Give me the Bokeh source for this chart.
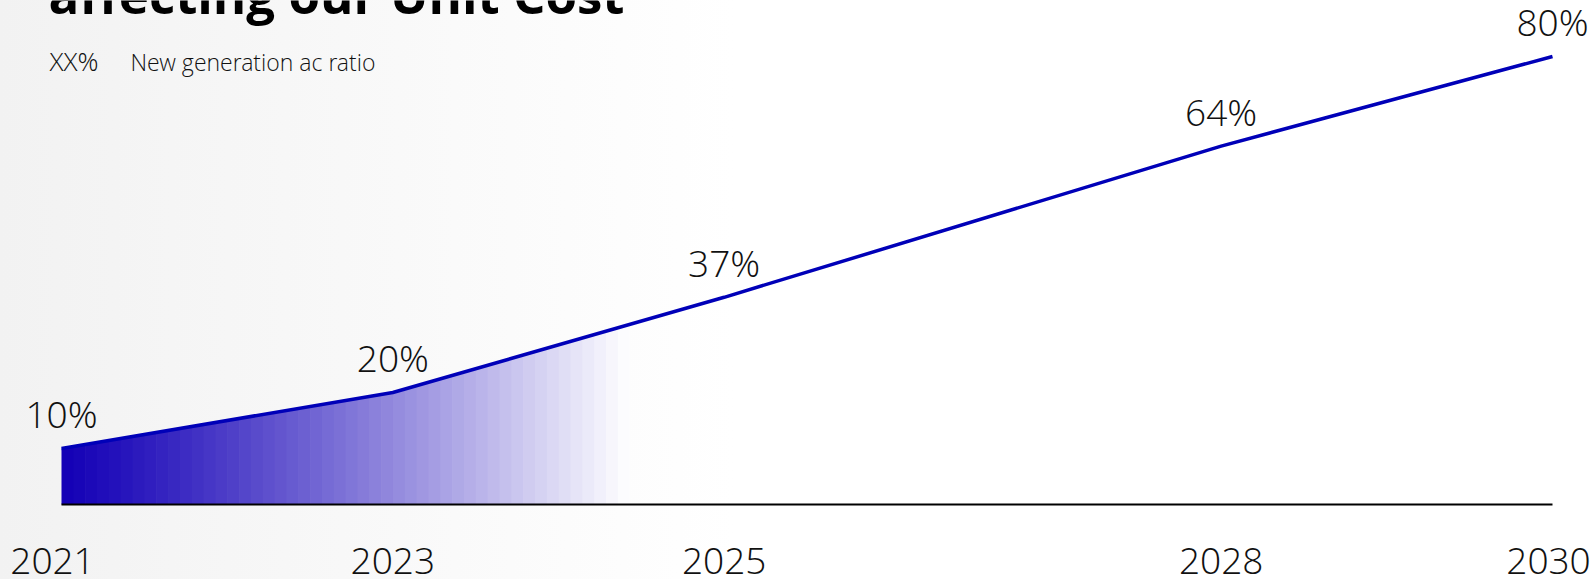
import numpy as np
from bokeh.plotting import figure
from bokeh.models import Range1d, Label, ColumnDataSource
from bokeh.core.properties import value
from bokeh.embed import file_html
from bokeh.resources import INLINE

# ---- data ----
years = [2021, 2023, 2025, 2028, 2030]
ratio = [10, 20, 37, 64, 80]
ratio_labels = ["10%", "20%", "37%", "64%", "80%"]
tick_labels = ["2021", "2023", "2025", "2028", "2030"]
title_text = "affecting our Unit Cost"
legend_key = "XX%"
legend_text = "New generation ac ratio"

# ---- style ----
BLUE = "#0000b8"
FILL_RGB = np.array([20, 0, 182])
FONT_NAME = "Open Sans Light"
FONT = value(FONT_NAME)
tick_dx = [-9, 0, 0, 0, -4]   # pixel nudges of the year labels
W, H = 1596, 579

p = figure(width=W, height=H, output_backend="svg", toolbar_location=None,
           x_range=Range1d(2020.6318, 2030.2656), y_range=Range1d(-13.393, 90.0),
           min_border=0, min_border_left=0, min_border_right=0,
           min_border_top=0, min_border_bottom=0)
p.xaxis.visible = False
p.yaxis.visible = False
p.grid.visible = False
p.outline_line_color = None
p.background_fill_color = None
p.border_fill_color = None
p.styles = {"background": "linear-gradient(90deg, #f2f2f2 0%, #f9f9f9 25%, #ffffff 46%)"}

# gradient area under the curve: solid strips fading from blue to white
fade_end = 2024.43
n = 48
edges = np.unique(np.concatenate([np.linspace(years[0], fade_end, n + 1), [years[1]]]))
eps = 0.004
for i in range(len(edges) - 1):
    xa, xb = edges[i], edges[i + 1]
    t = (0.5 * (xa + xb) - years[0]) / (fade_end - years[0])
    w = t ** 1.15
    rgb = FILL_RGB * (1 - w) + 255 * w
    col = "#%02x%02x%02x" % tuple(int(round(c)) for c in rgb)
    xs = [xa, min(xb + eps, fade_end)]
    ys = list(np.interp(xs, years, ratio))
    p.varea(x=xs, y1=[0, 0], y2=ys, fill_color=col)

# baseline
p.line(x=[years[0], years[-1]], y=[0, 0], line_color="black", line_width=2)

# main line
p.line(x=years, y=ratio, line_color=BLUE, line_width=3.5)

src = ColumnDataSource(dict(x=years, y=ratio, lab=ratio_labels,
                            zero=[0] * len(years), tick=tick_labels, dx=tick_dx))
p.text(x="x", y="y", text="lab", source=src, text_align="center",
       text_baseline="alphabetic", y_offset=-35, text_font=FONT,
       text_font_size="37px", text_color="#111111")
p.text(x="x", y="zero", text="tick", source=src, text_align="center",
       text_baseline="alphabetic", x_offset="dx", y_offset=57, text_font=FONT,
       text_font_size="37px", text_color="#111111")

p.add_layout(Label(x=48, y=586, x_units="screen", y_units="screen",
                   text=title_text, text_font="Open Sans",
                   text_font_style="bold", text_font_size="51px",
                   text_color="black", text_baseline="alphabetic"))
p.add_layout(Label(x=49, y=519, x_units="screen", y_units="screen",
                   text=legend_key, text_font=FONT_NAME, text_font_size="26px",
                   text_color="#111111", text_baseline="alphabetic"))
p.add_layout(Label(x=130, y=518, x_units="screen", y_units="screen",
                   text=legend_text, text_font=FONT_NAME, text_font_size="23px",
                   text_color="#111111", text_baseline="alphabetic"))

open("out.html", "w").write(file_html(p, INLINE))
